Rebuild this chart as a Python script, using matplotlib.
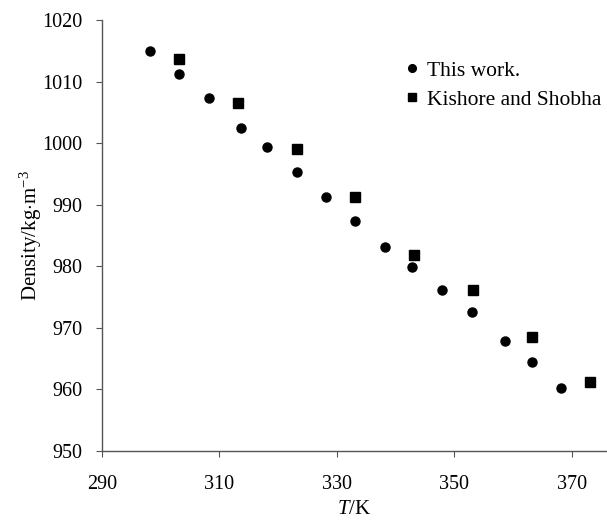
import matplotlib
matplotlib.use('Agg')
import matplotlib.pyplot as plt

# this work
t_this = [298.15, 303.15, 308.15, 313.65, 318.15, 323.15, 328.15, 333.15, 338.15,
          342.85, 347.95, 352.95, 358.55, 363.15, 368.15]
rho_this = [1015.0, 1011.3, 1007.4, 1002.4, 999.3, 995.3, 991.2, 987.3, 983.2,
            979.9, 976.2, 972.6, 967.9, 964.4, 960.3]
# Kishore and Shobha
t_ks = [303.15, 313.15, 323.15, 333.15, 343.15, 353.15, 363.15, 373.15]
rho_ks = [1013.6, 1006.5, 999.0, 991.3, 981.9, 976.1, 968.5, 961.2]

plt.rcParams['font.family'] = ['Liberation Serif', 'DejaVu Serif']
plt.rcParams['mathtext.fontset'] = 'custom'
plt.rcParams['mathtext.rm'] = 'Liberation Serif'
plt.rcParams['mathtext.it'] = 'Liberation Serif:italic'

fig = plt.figure(figsize=(6.07, 5.2), dpi=100)
ax = fig.add_axes([0.168, 0.1327, 0.832, 0.8288])

ax.plot(t_this, rho_this, 'o', color='black', markersize=6.5, label='This work.')
ax.plot(t_ks, rho_ks, 's', color='black', markersize=6.5, label='Kishore and Shobha')

ax.set_xlim(290, 376)
ax.set_ylim(950, 1020)
ax.set_xticks([290, 310, 330, 350, 370])
ax.set_yticks(range(950, 1021, 10))

for s in ['top', 'right']:
    ax.spines[s].set_visible(False)
for s in ['left', 'bottom']:
    ax.spines[s].set_color('#555555')
    ax.spines[s].set_linewidth(1.0)
ax.tick_params(direction='out', length=4, color='#555555', labelsize=14.5)
ax.tick_params(axis='y', pad=10)
ax.tick_params(axis='x', pad=13)

ax.set_xlabel('$T$/K', fontsize=15, labelpad=4.5)
ax.set_ylabel('Density/kg$\\cdot$m$^{-3}$', fontsize=15, labelpad=-1)

ax.legend(loc='upper left', bbox_to_anchor=(0.601, 0.905), frameon=False, fontsize=15.5,
          borderpad=0, borderaxespad=0, handletextpad=0.4, labelspacing=0.4,
          handlelength=0.6, markerscale=0.85)

fig.savefig('out.png', dpi=100)
